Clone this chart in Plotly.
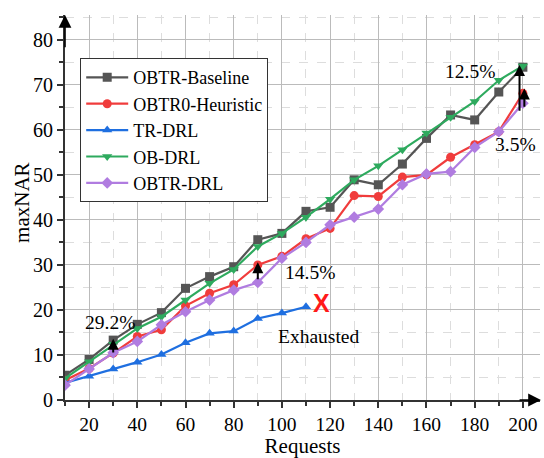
import plotly.graph_objects as go

requests = [10, 20, 30, 40, 50, 60, 70, 80, 90, 100, 110, 120, 130, 140, 150, 160, 170, 180, 190, 200]
obtr_baseline = [5.5, 9.0, 13.3, 16.8, 19.4, 24.8, 27.4, 29.6, 35.6, 37.0, 41.9, 42.8, 48.9, 47.8, 52.4, 58.1, 63.3, 62.2, 68.4, 73.9]
obtr0_heuristic = [4.4, 7.0, 10.4, 14.1, 15.6, 20.9, 23.7, 25.6, 30.0, 31.9, 35.8, 38.1, 45.4, 45.2, 49.5, 50.0, 53.9, 56.7, 59.6, 68.1]
tr_requests = [10, 20, 30, 40, 50, 60, 70, 80, 90, 100, 110]
tr_drl = [3.8, 5.3, 6.9, 8.4, 10.1, 12.7, 14.8, 15.3, 18.1, 19.3, 20.7]
ob_drl = [4.8, 8.5, 12.4, 15.9, 18.5, 22.2, 25.9, 29.0, 34.1, 37.0, 40.6, 44.6, 48.9, 52.0, 55.6, 59.3, 62.8, 66.3, 71.0, 74.2]
obtr_drl = [3.3, 6.9, 10.5, 13.0, 16.7, 19.6, 22.2, 24.4, 26.1, 31.5, 35.0, 38.9, 40.6, 42.4, 47.8, 50.2, 50.7, 56.1, 59.6, 65.9]

series = [
    ("OBTR-Baseline", requests, obtr_baseline, "#555555", "square"),
    ("OBTR0-Heuristic", requests, obtr0_heuristic, "#f03c3c", "circle"),
    ("TR-DRL", tr_requests, tr_drl, "#1f6fe0", "triangle-up"),
    ("OB-DRL", requests, ob_drl, "#2eaa5e", "triangle-down"),
    ("OBTR-DRL", requests, obtr_drl, "#b07ce0", "diamond"),
]

FONT = "Liberation Serif, Times New Roman, serif"
fig = go.Figure()
for name, xs, ys, color, sym in series:
    fig.add_trace(go.Scatter(
        x=xs, y=ys, name=name, mode="lines+markers",
        line=dict(color=color, width=2.2),
        marker=dict(symbol=sym, size=9, color=color),
    ))

# percentage arrows: (x, tail_y, head_y)
arrows = [(30, 10.2, 13.6), (90, 26.5, 30.6), (198.6, 63.9, 74.4), (200.6, 64.8, 69.2)]
for ax_x, y0, y1 in arrows:
    fig.add_annotation(x=ax_x, y=y1, ax=ax_x, ay=y0, xref="x", yref="y", axref="x", ayref="y",
                       text="", showarrow=True, arrowhead=2, arrowsize=1.1, arrowwidth=2, arrowcolor="black")

labels = [("29.2%", 28.7, 17.3), ("14.5%", 111.7, 28.4), ("12.5%", 178, 72.9),
          ("3.5%", 197, 56.7), ("Exhausted", 115, 14.2)]
for txt, lx, ly in labels:
    fig.add_annotation(x=lx, y=ly, text=txt, showarrow=False, font=dict(family=FONT, size=19.5, color="black"))
fig.add_annotation(x=116.6, y=21.6, text="<b>X</b>", showarrow=False,
                   font=dict(family="Liberation Sans", size=25, color="#ff1a1a"))

# y-axis title placed as rotated text
fig.add_annotation(x=-0.0905, y=0.512, xref="paper", yref="paper", text="maxNAR", textangle=-90,
                   showarrow=False, xanchor="center", yanchor="middle",
                   font=dict(family=FONT, size=21, color="black"))

# axis arrowheads
fig.add_annotation(x=10, y=85.5, ax=10, ay=78, xref="x", yref="y", axref="x", ayref="y", text="",
                   showarrow=True, arrowhead=2, arrowsize=1.6, arrowwidth=1.6, arrowcolor="black")
fig.add_annotation(x=207.5, y=0, ax=198, ay=0, xref="x", yref="y", axref="x", ayref="y", text="",
                   showarrow=True, arrowhead=2, arrowsize=1.6, arrowwidth=1.6, arrowcolor="black")

fig.update_layout(
    width=544, height=458,
    margin=dict(l=65, r=4, t=15, b=58),
    paper_bgcolor="white", plot_bgcolor="white",
    font=dict(family=FONT, size=19, color="black"),
    legend=dict(x=0.032, y=0.888, xanchor="left", yanchor="top",
                bgcolor="white", bordercolor="#333", borderwidth=1, itemwidth=42,
                font=dict(family=FONT, size=18), tracegroupgap=0),
    showlegend=True,
)
fig.update_xaxes(
    range=[10, 207.1], tick0=0, dtick=20, showline=True, linecolor="#333", linewidth=2,
    ticks="outside", ticklen=6, tickcolor="#333", tickwidth=1.5, automargin=False,
    showgrid=True, gridcolor="#bbbbbb", gridwidth=1, zeroline=False,
    minor=dict(dtick=10, tick0=0, ticks="outside", ticklen=4, tickcolor="#333", showgrid=True,
               gridcolor="#dddddd", griddash="dash", gridwidth=1),
    title=dict(text="Requests", font=dict(family=FONT, size=21), standoff=2),
    tickfont=dict(family=FONT, size=19.5),
)
fig.update_yaxes(
    range=[0, 85.5], tick0=0, dtick=10, showline=True, linecolor="#333", linewidth=2,
    ticks="outside", ticklen=6, tickcolor="#333", tickwidth=1.5, automargin=False,
    showgrid=True, gridcolor="#bbbbbb", gridwidth=1, zeroline=False,
    minor=dict(dtick=5, tick0=0, ticks="outside", ticklen=4, tickcolor="#333", showgrid=True,
               gridcolor="#dddddd", griddash="dash", gridwidth=1),
    tickfont=dict(family=FONT, size=20),
)

fig.write_html("out.html", config={"displayModeBar": False})

# remove default page margin so the figure sits at the window's top-left corner
with open("out.html", "r", encoding="utf-8") as f:
    html = f.read()
html = html.replace("<head>", "<head><style>html,body{margin:0;padding:0;overflow:hidden;}</style>", 1)
with open("out.html", "w", encoding="utf-8") as f:
    f.write(html)
